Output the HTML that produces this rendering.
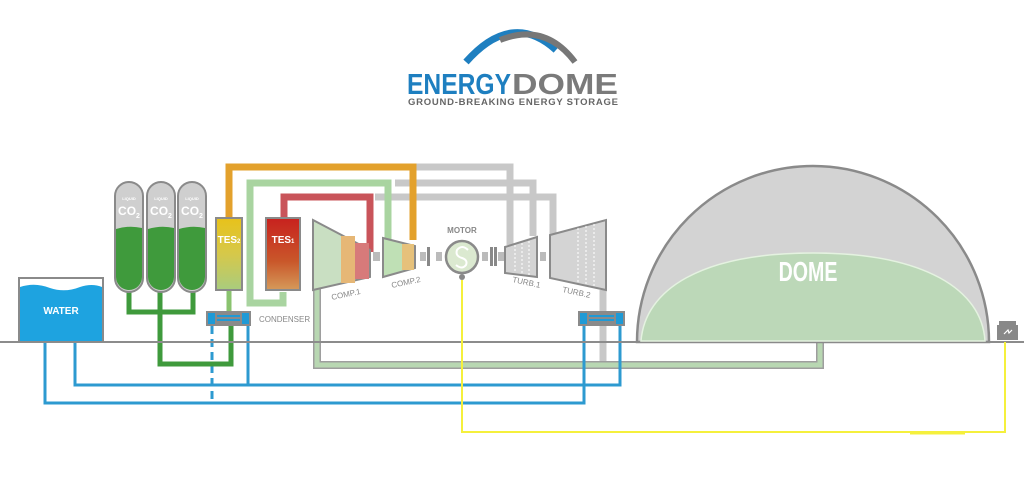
<!DOCTYPE html>
<html><head><meta charset="utf-8"><style>
html,body{margin:0;padding:0;background:#fff;}
svg{display:block;font-family:"Liberation Sans",sans-serif;}
</style></head><body>
<svg width="1024" height="483" viewBox="0 0 1024 483" xmlns="http://www.w3.org/2000/svg">
<defs>
<linearGradient id="t2" x1="0" y1="0" x2="0" y2="1"><stop offset="0" stop-color="#e8c21a"/><stop offset="0.5" stop-color="#d6c84a"/><stop offset="1" stop-color="#a9cc7e"/></linearGradient>
<linearGradient id="t1" x1="0" y1="0" x2="0" y2="1"><stop offset="0" stop-color="#c8211e"/><stop offset="0.6" stop-color="#c9572a"/><stop offset="1" stop-color="#d59a5a"/></linearGradient>
</defs>
<!-- logo -->
<path d="M466 62 Q512 10 556 50" fill="none" stroke="#1e7fc0" stroke-width="7"/>
<path d="M500 40 Q545 22 575 62" fill="none" stroke="#777" stroke-width="6"/>
<text x="407" y="94" font-size="29" font-weight="bold" fill="#1e7fc0" textLength="104" lengthAdjust="spacingAndGlyphs">ENERGY</text>
<text x="512" y="94" font-size="29" font-weight="bold" fill="#7a7a7a" textLength="106" lengthAdjust="spacingAndGlyphs">DOME</text>
<text x="408" y="105" font-size="9.5" font-weight="bold" fill="#666" textLength="210" lengthAdjust="spacing">GROUND-BREAKING ENERGY STORAGE</text>

<!-- gray pipes top -->
<g fill="none" stroke="#c8c8c8" stroke-width="7">
<path d="M413 167 H510 V245"/>
<path d="M395 183 H533 V236"/>
<path d="M375 197 H553 V236"/>
<path d="M603 290 V362"/>
</g>
<!-- orange pipe -->
<path d="M229 218 V167 H413 V240" fill="none" stroke="#e3a12c" stroke-width="7"/>
<!-- green light pipe -->
<path d="M283 292 V303 H250 V183 H388 V240" fill="none" stroke="#a9d4a0" stroke-width="7"/>
<!-- red pipe -->
<path d="M284 218 V197 H370 V252" fill="none" stroke="#c9545a" stroke-width="7"/>
<!-- bottom green pipe -->
<path d="M317 285 V365 H820 V342" fill="none" stroke="#9e9e9e" stroke-width="8"/>
<path d="M317 285 V365 H820 V342" fill="none" stroke="#b8d7b2" stroke-width="5"/>

<!-- blue pipes -->
<g fill="none" stroke="#2d9ad0" stroke-width="3">
<path d="M45 342 V403 H584 V326"/>
<path d="M75 342 V385 H620 V326"/>
<path d="M248 326 V385"/>
<path d="M212 326 V403" stroke-dasharray="8 5"/>
</g>
<!-- dark green pipes -->
<g fill="none" stroke="#3f9a3c" stroke-width="5">
<path d="M129 290 V312 H193 V290"/>
<path d="M160 290 V312"/>
<path d="M160 312 V364 H231 V326"/>
<path d="M229 290 V311" stroke="#8ac36f"/>
</g>

<!-- ground -->
<rect x="0" y="341" width="1024" height="2" fill="#8c8c8c"/>

<!-- water -->
<rect x="19" y="278" width="84" height="63" fill="#fff" stroke="#8a8a8a" stroke-width="2"/>
<path d="M20 287 Q35 282 50 288 Q65 293 80 287 Q92 283 102 287 V341 H20 Z" fill="#1ea3e0"/>
<text x="61" y="314" font-size="10" font-weight="bold" fill="#fff" text-anchor="middle">WATER</text>

<!-- CO2 tanks -->
<g stroke="#8a8a8a" stroke-width="2">
<rect x="115" y="182" width="28" height="110" rx="14" fill="#cfcfcf"/>
<rect x="147" y="182" width="28" height="110" rx="14" fill="#cfcfcf"/>
<rect x="178" y="182" width="28" height="110" rx="14" fill="#cfcfcf"/>
</g>
<g fill="#3f9a3c">
<path d="M116 229 Q129 225 142 228 V277 A13 13 0 0 1 116 277Z"/>
<path d="M148 229 Q161 225 174 228 V277 A13 13 0 0 1 148 277Z"/>
<path d="M179 229 Q192 225 205 228 V277 A13 13 0 0 1 179 277Z"/>
</g>
<g fill="#fff" font-weight="bold" text-anchor="middle">
<text x="129" y="200" font-size="4">LIQUID</text><text x="129" y="215" font-size="12">CO<tspan font-size="7" dy="3">2</tspan></text>
<text x="161" y="200" font-size="4">LIQUID</text><text x="161" y="215" font-size="12">CO<tspan font-size="7" dy="3">2</tspan></text>
<text x="192" y="200" font-size="4">LIQUID</text><text x="192" y="215" font-size="12">CO<tspan font-size="7" dy="3">2</tspan></text>
</g>

<!-- TES -->
<rect x="216" y="218" width="26" height="72" fill="url(#t2)" stroke="#8a8a8a" stroke-width="2"/>
<text x="229" y="243" font-size="10" font-weight="bold" fill="#fff" text-anchor="middle">TES<tspan font-size="6">2</tspan></text>
<rect x="266" y="218" width="34" height="72" fill="url(#t1)" stroke="#8a8a8a" stroke-width="2"/>
<text x="283" y="243" font-size="10" font-weight="bold" fill="#fff" text-anchor="middle">TES<tspan font-size="6">1</tspan></text>

<!-- condensers -->
<g>
<rect x="206" y="311" width="45" height="15" fill="#8a8a8a"/>
<rect x="208" y="313" width="7" height="11" fill="#1e9ad6"/><rect x="242" y="313" width="7" height="11" fill="#1e9ad6"/>
<rect x="217" y="315" width="23" height="2" fill="#1e9ad6"/><rect x="217" y="319" width="23" height="2" fill="#1e9ad6"/>
<rect x="578" y="311" width="47" height="15" fill="#8a8a8a"/>
<rect x="580" y="313" width="7" height="11" fill="#1e9ad6"/><rect x="616" y="313" width="7" height="11" fill="#1e9ad6"/>
<rect x="589" y="315" width="25" height="2" fill="#1e9ad6"/><rect x="589" y="319" width="25" height="2" fill="#1e9ad6"/>
</g>
<text x="259" y="322" font-size="8" fill="#888">CONDENSER</text>

<!-- compressors -->
<polygon points="313,220 370,250 370,277 313,290" fill="#c9dfc2" stroke="#8a8a8a" stroke-width="2"/>
<rect x="341" y="236" width="14" height="47" fill="#e6b776"/>
<rect x="355" y="243" width="14" height="36" fill="#d77a7a"/>
<polygon points="383,238 415,246 415,268 383,277" fill="#bfe0b5" stroke="#8a8a8a" stroke-width="2"/>
<rect x="402" y="244" width="12" height="26" fill="#e6c17b"/>
<text x="332" y="300" font-size="8" fill="#888" transform="rotate(-12 332 300)">COMP.1</text>
<text x="392" y="288" font-size="8" fill="#888" transform="rotate(-12 392 288)">COMP.2</text>

<!-- shafts -->
<g fill="#bbb"><rect x="373" y="252" width="7" height="9"/><rect x="420" y="252" width="6" height="9"/><rect x="436" y="252" width="6" height="9"/><rect x="482" y="252" width="6" height="9"/><rect x="498" y="252" width="6" height="9"/><rect x="540" y="252" width="6" height="9"/></g>
<g fill="#888"><rect x="427" y="247" width="3" height="19"/><rect x="490" y="247" width="3" height="19"/><rect x="494" y="247" width="3" height="19"/></g>

<!-- motor -->
<text x="462" y="233" font-size="8" font-weight="bold" fill="#888" text-anchor="middle">MOTOR</text>
<circle cx="462" cy="257" r="16" fill="#dbe9d0" stroke="#8a8a8a" stroke-width="2.5"/>
<path d="M468 250 Q462 244 457 250 Q455 256 462 258 Q468 260 466 265 Q462 270 456 265" fill="none" stroke="#fff" stroke-width="2"/>
<circle cx="462" cy="277" r="3" fill="#888"/>

<!-- turbines -->
<polygon points="505,247 537,237 537,277 505,273" fill="#d4d4d4" stroke="#8a8a8a" stroke-width="2"/>
<polygon points="550,235 606,220 606,290 550,278" fill="#d4d4d4" stroke="#8a8a8a" stroke-width="2"/>
<g stroke="#fff" stroke-width="1" stroke-dasharray="2 2"><path d="M515 245 V273 M522 243 V274 M529 241 V275 M578 228 V283 M586 226 V285 M594 224 V287"/></g>
<text x="512" y="282" font-size="8" fill="#888" transform="rotate(12 512 282)">TURB.1</text>
<text x="562" y="292" font-size="8" fill="#888" transform="rotate(12 562 292)">TURB.2</text>

<!-- dome -->
<path d="M637 342 A176 176 0 0 1 989 342 Z" fill="#d3d3d3" stroke="#8a8a8a" stroke-width="2.5"/>
<path d="M641 341 C645 290 700 253 813 253 C925 253 982 290 985 341 Z" fill="#bcd8b8" stroke="#e4f2e0" stroke-width="1.5"/>
<text x="0" y="0" font-size="28" font-weight="bold" fill="#fff" text-anchor="middle" transform="translate(808 281) scale(0.7 1)">DOME</text>

<!-- battery -->
<rect x="997" y="325" width="21" height="15" fill="#888"/>
<rect x="999" y="321" width="17" height="4" fill="#888"/>
<path d="M1004 334 L1008 330 L1009 333 L1012 330" stroke="#fff" fill="none" stroke-width="1.2"/>
<!-- yellow line -->
<path d="M462 280 V432 H1005 V342" fill="none" stroke="#f5f03c" stroke-width="2"/>
<path d="M910 433 H965" stroke="#f5f03c" stroke-width="3"/>
</svg>
</body></html>
